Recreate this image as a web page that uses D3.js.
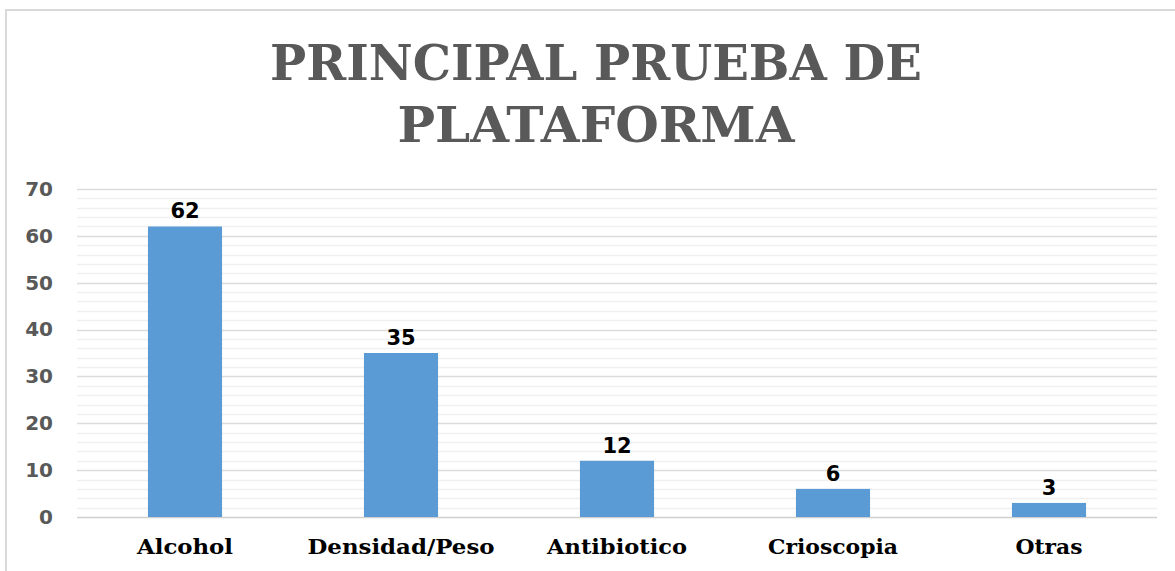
<!DOCTYPE html>
<html>
<head>
<meta charset="utf-8">
<script src="https://cdn.jsdelivr.net/npm/d3@7"></script>
<style>
  html, body { margin: 0; padding: 0; background: #fff; }
  svg { display: block; }
</style>
</head>
<body>
<svg id="chart" width="1175" height="571"></svg>
<script>
'use strict';

const categories = ["Alcohol", "Densidad/Peso", "Antibiotico", "Crioscopia", "Otras"];
const values = [62, 35, 12, 6, 3];
const yTicks = [0, 10, 20, 30, 40, 50, 60, 70];
const titleLines = ["PRINCIPAL PRUEBA DE", "PLATAFORMA"];

const svg = d3.select("#chart");
const width = 1175, height = 571;
const margin = { top: 189, right: 18, bottom: 54, left: 77 };

// chart frame
svg.append("rect")
  .attr("x", 6).attr("y", 10)
  .attr("width", width + 20).attr("height", height + 20)
  .attr("fill", "#fff")
  .attr("stroke", "#d9d9d9")
  .attr("stroke-width", 2);

const x = d3.scaleBand()
  .domain(categories)
  .range([margin.left, width - margin.right])
  .paddingInner(0.657)
  .paddingOuter(0.3285);

const y = d3.scaleLinear()
  .domain([0, 70])
  .range([height - margin.bottom, margin.top]);

// minor grid
svg.append("g")
  .selectAll("line")
  .data(d3.range(0, 71, 2).filter(d => d % 10 !== 0))
  .join("line")
  .attr("x1", margin.left).attr("x2", width - margin.right)
  .attr("y1", d => Math.round(y(d)) + 0.5).attr("y2", d => Math.round(y(d)) + 0.5)
  .attr("stroke", "#f0f0f0")
  .attr("stroke-width", 1.5);

// major grid
svg.append("g")
  .selectAll("line")
  .data(yTicks)
  .join("line")
  .attr("x1", margin.left).attr("x2", width - margin.right)
  .attr("y1", d => Math.round(y(d)) + 0.5).attr("y2", d => Math.round(y(d)) + 0.5)
  .attr("stroke", d => d === 0 ? "#d0d0d0" : "#dcdcdc")
  .attr("stroke-width", 1.5);

// y axis labels
const yAxis = svg.append("g")
  .attr("transform", `translate(${margin.left},0)`)
  .call(d3.axisLeft(y).tickValues(yTicks).tickSize(0).tickPadding(24));
yAxis.select(".domain").remove();
yAxis.selectAll("text")
  .attr("fill", "#595959")
  .style("font-family", "'DejaVu Sans', sans-serif")
  .style("font-weight", "bold")
  .style("font-size", "20px");

// bars
svg.append("g")
  .selectAll("rect")
  .data(values)
  .join("rect")
  .attr("x", (d, i) => x(categories[i]))
  .attr("y", d => y(d))
  .attr("width", x.bandwidth())
  .attr("height", d => y(0) - y(d))
  .attr("fill", "#5b9bd5");

// value labels
svg.append("g")
  .selectAll("text")
  .data(values)
  .join("text")
  .attr("x", (d, i) => x(categories[i]) + x.bandwidth() / 2)
  .attr("y", d => y(d) - 8)
  .attr("text-anchor", "middle")
  .attr("fill", "#000")
  .style("font-family", "'DejaVu Sans', sans-serif")
  .style("font-weight", "bold")
  .style("font-size", "21px")
  .text(d => d);

// x axis labels
const labelWidths = [96, 187, 140, 130, 67];
const xAxis = svg.append("g")
  .attr("transform", `translate(0,${height - margin.bottom})`)
  .call(d3.axisBottom(x).tickSize(0).tickPadding(22));
xAxis.select(".domain").remove();
xAxis.selectAll("text")
  .attr("fill", "#000")
  .attr("textLength", (d, i) => labelWidths[i])
  .attr("lengthAdjust", "spacingAndGlyphs")
  .style("font-family", "'DejaVu Serif', serif")
  .style("font-weight", "bold")
  .style("font-size", "21px");

// title
const titleWidths = [652, 397];
svg.append("g")
  .selectAll("text")
  .data(titleLines)
  .join("text")
  .attr("x", 596)
  .attr("y", (d, i) => 80 + i * 62)
  .attr("text-anchor", "middle")
  .attr("fill", "#595959")
  .attr("textLength", (d, i) => titleWidths[i])
  .attr("lengthAdjust", "spacingAndGlyphs")
  .style("font-family", "'DejaVu Serif', serif")
  .style("font-weight", "bold")
  .style("font-size", "48px")
  .text(d => d);
</script>
</body>
</html>
